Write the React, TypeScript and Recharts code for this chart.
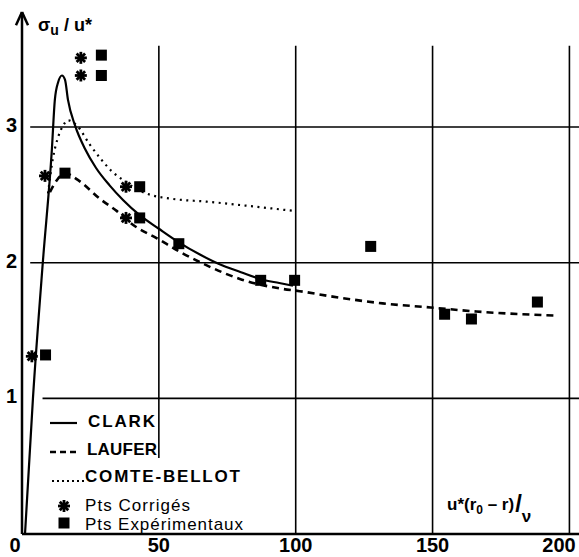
import { ComposedChart, Line, Scatter, XAxis, YAxis, ReferenceLine } from 'recharts'

// curves: x = u*(r0-r)/nu, y = sigma_u/u*
const clark = [
  { x: 1.1, y: 0 }, { x: 4, y: 1 }, { x: 7.6, y: 2 }, { x: 10.9, y: 2.83 },
  { x: 12.0, y: 3.2 }, { x: 13.2, y: 3.33 }, { x: 14.6, y: 3.38 }, { x: 15.7, y: 3.35 },
  { x: 16.8, y: 3.2 }, { x: 19.4, y: 3.01 }, { x: 23, y: 2.84 }, { x: 27, y: 2.7 },
  { x: 32, y: 2.57 }, { x: 37, y: 2.46 }, { x: 43, y: 2.35 }, { x: 50, y: 2.25 },
  { x: 57.3, y: 2.15 }, { x: 65, y: 2.06 }, { x: 72, y: 1.99 }, { x: 80, y: 1.93 },
  { x: 87, y: 1.88 }, { x: 94, y: 1.85 }, { x: 99, y: 1.83 },
]

const laufer = [
  { x: 10.2, y: 2.52 }, { x: 12.8, y: 2.61 }, { x: 15.7, y: 2.66 }, { x: 20.4, y: 2.61 },
  { x: 28.5, y: 2.47 }, { x: 34.7, y: 2.38 }, { x: 40.5, y: 2.28 }, { x: 49.3, y: 2.18 },
  { x: 57.7, y: 2.08 }, { x: 67.5, y: 1.98 }, { x: 79.6, y: 1.88 }, { x: 94.2, y: 1.81 },
  { x: 101.5, y: 1.79 }, { x: 113.5, y: 1.75 }, { x: 131.8, y: 1.7 }, { x: 149.3, y: 1.67 },
  { x: 166, y: 1.64 }, { x: 195.3, y: 1.61 },
]

const comteBellot = [
  { x: 9.5, y: 2.51 }, { x: 11.3, y: 2.77 }, { x: 13.1, y: 2.92 }, { x: 15, y: 3.01 },
  { x: 16.8, y: 3.05 }, { x: 20.1, y: 3.01 }, { x: 24.8, y: 2.87 }, { x: 29, y: 2.76 },
  { x: 33, y: 2.67 }, { x: 37.6, y: 2.6 }, { x: 42, y: 2.54 }, { x: 47, y: 2.5 },
  { x: 55.1, y: 2.47 }, { x: 67.5, y: 2.45 }, { x: 82.1, y: 2.42 }, { x: 100, y: 2.38 },
]

const ptsCorriges = [
  { x: 3.6, y: 1.31 }, { x: 8.4, y: 2.64 }, { x: 21.5, y: 3.38 },
  { x: 21.5, y: 3.51 }, { x: 38, y: 2.56 }, { x: 38, y: 2.33 },
]

const ptsExperimentaux = [
  { x: 8.6, y: 1.32 }, { x: 15.7, y: 2.66 }, { x: 29, y: 3.53 }, { x: 29, y: 3.38 },
  { x: 43, y: 2.56 }, { x: 43, y: 2.33 }, { x: 57.3, y: 2.14 }, { x: 87.2, y: 1.87 },
  { x: 99.6, y: 1.87 }, { x: 127.4, y: 2.12 }, { x: 154.4, y: 1.62 }, { x: 164.2, y: 1.585 },
  { x: 188.3, y: 1.71 },
]

const xTicks = [0, 50, 100, 150, 200]
const yTicks = [1, 2, 3]
const xGrid = [50, 100, 150, 200]
const yGrid = [1, 2, 3]

const X_MAX = 203.5
const Y_MAX = 3.848
const FONT = '"Liberation Sans", Arial, sans-serif'

const Asterisk = (props: any) => {
  const { cx, cy } = props
  const r = 6
  const spokes = [0, 45, 90, 135].map((a) => {
    const rad = (a * Math.PI) / 180
    return (
      <line key={a} x1={cx - r * Math.cos(rad)} y1={cy - r * Math.sin(rad)}
        x2={cx + r * Math.cos(rad)} y2={cy + r * Math.sin(rad)} stroke="#000" strokeWidth={2.8} />
    )
  })
  return <g>{spokes}<circle cx={cx} cy={cy} r={2.8} fill="#000" /></g>
}

const Square = (props: any) => {
  const { cx, cy } = props
  return <rect x={cx - 5.5} y={cy - 5.5} width={11} height={11} fill="#000" />
}

const XTick = (props: any) => {
  const { x, y, payload } = props
  const dx = payload.value === 0 ? -7 : payload.value === 200 ? -8 : 0
  return (
    <text x={x + dx} y={y + 10} textAnchor="middle" fontFamily={FONT} fontWeight="bold" fontSize={20} fill="#000">
      {payload.value}
    </text>
  )
}

const YTick = (props: any) => {
  const { x, y, payload } = props
  return (
    <text x={x + 3} y={y + 5} textAnchor="end" fontFamily={FONT} fontWeight="bold" fontSize={20} fill="#000">
      {payload.value}
    </text>
  )
}

export default function App() {
  return (
    <div style={{ position: 'absolute', left: 0, top: 0, width: 579, height: 557, background: '#fff' }}>
      <ComposedChart width={579} height={557} margin={{ top: 12, right: 0, bottom: 0, left: 0 }}>
        <XAxis type="number" dataKey="x" domain={[0, X_MAX]} ticks={xTicks} allowDataOverflow
          height={23} axisLine={{ stroke: '#000', strokeWidth: 2.5 }} tickLine={false} tick={<XTick />} />
        <YAxis type="number" dataKey="y" domain={[0, Y_MAX]} ticks={yTicks} allowDataOverflow
          width={22} axisLine={{ stroke: '#000', strokeWidth: 2.5 }} tickLine={false} tick={<YTick />} />

        {xGrid.map((v) => (
          <ReferenceLine key={'gx' + v} segment={[{ x: v, y: v === 50 ? 0.56 : 0 }, { x: v, y: 3.6 }]}
            stroke="#000" strokeWidth={1.6} ifOverflow="visible" />
        ))}
        {yGrid.map((v) => (
          <ReferenceLine key={'gy' + v} segment={[{ x: v === 1 ? 7.5 : 3, y: v }, { x: X_MAX, y: v }]}
            stroke="#000" strokeWidth={1.6} ifOverflow="visible" />
        ))}
        <ReferenceLine segment={[{ x: -2.2, y: 3.75 }, { x: 0, y: 3.848 }]} stroke="#000" strokeWidth={2.5} ifOverflow="visible" />
        <ReferenceLine segment={[{ x: 2.2, y: 3.75 }, { x: 0, y: 3.848 }]} stroke="#000" strokeWidth={2.5} ifOverflow="visible" />

        <Line data={clark} dataKey="y" type="monotone" stroke="#000" strokeWidth={2.2} dot={false} isAnimationActive={false} />
        <Line data={laufer} dataKey="y" type="monotone" stroke="#000" strokeWidth={2.6} strokeDasharray="7 5" dot={false} isAnimationActive={false} />
        <Line data={comteBellot} dataKey="y" type="monotone" stroke="#000" strokeWidth={2.2} strokeDasharray="2 4.5" dot={false} isAnimationActive={false} />
        <Scatter data={ptsCorriges} dataKey="y" shape={<Asterisk />} isAnimationActive={false} />
        <Scatter data={ptsExperimentaux} dataKey="y" shape={<Square />} isAnimationActive={false} />
      </ComposedChart>

      <svg width={579} height={557} style={{ position: 'absolute', left: 0, top: 0, pointerEvents: 'none' }}>
        {/* axis titles */}
        <text x={38} y={31} fontFamily={FONT} fontWeight="bold" fontSize={18} fill="#000">
          <tspan>σ</tspan>
          <tspan dy={4} fontSize={14}>u</tspan>
          <tspan dy={-4}> / u*</tspan>
        </text>
        <text x={447} y={510} fontFamily={FONT} fontWeight="bold" fontSize={17} fill="#000">
          <tspan>u*(r</tspan>
          <tspan dy={4} fontSize={12}>0</tspan>
          <tspan dy={-4}> – r)</tspan>
          <tspan dx={1} dy={2} fontSize={24}>/</tspan>
          <tspan dy={10} fontSize={17}>ν</tspan>
        </text>

        {/* legend */}
        <g fontFamily={FONT} fill="#000">
          <line x1={50} y1={423} x2={77} y2={423} stroke="#000" strokeWidth={2.2} />
          <text x={88} y={427} fontWeight="bold" fontSize={17} textLength={67} lengthAdjust="spacing">CLARK</text>
          <line x1={50} y1={452} x2={77} y2={452} stroke="#000" strokeWidth={2.6} strokeDasharray="6 4" />
          <text x={87} y={455} fontWeight="bold" fontSize={17} textLength={70} lengthAdjust="spacing">LAUFER</text>
          <line x1={52} y1={481} x2={84} y2={481} stroke="#000" strokeWidth={2} strokeDasharray="2 3" />
          <text x={85} y={482} fontWeight="bold" fontSize={17} textLength={155} lengthAdjust="spacing">COMTE-BELLOT</text>
          <Asterisk cx={64} cy={506} />
          <text x={85} y={511} fontSize={17} textLength={105} lengthAdjust="spacing">Pts Corrigés</text>
          <Square cx={64} cy={523} />
          <text x={85} y={530} fontSize={17} textLength={158} lengthAdjust="spacing">Pts Expérimentaux</text>
        </g>
      </svg>
    </div>
  )
}
